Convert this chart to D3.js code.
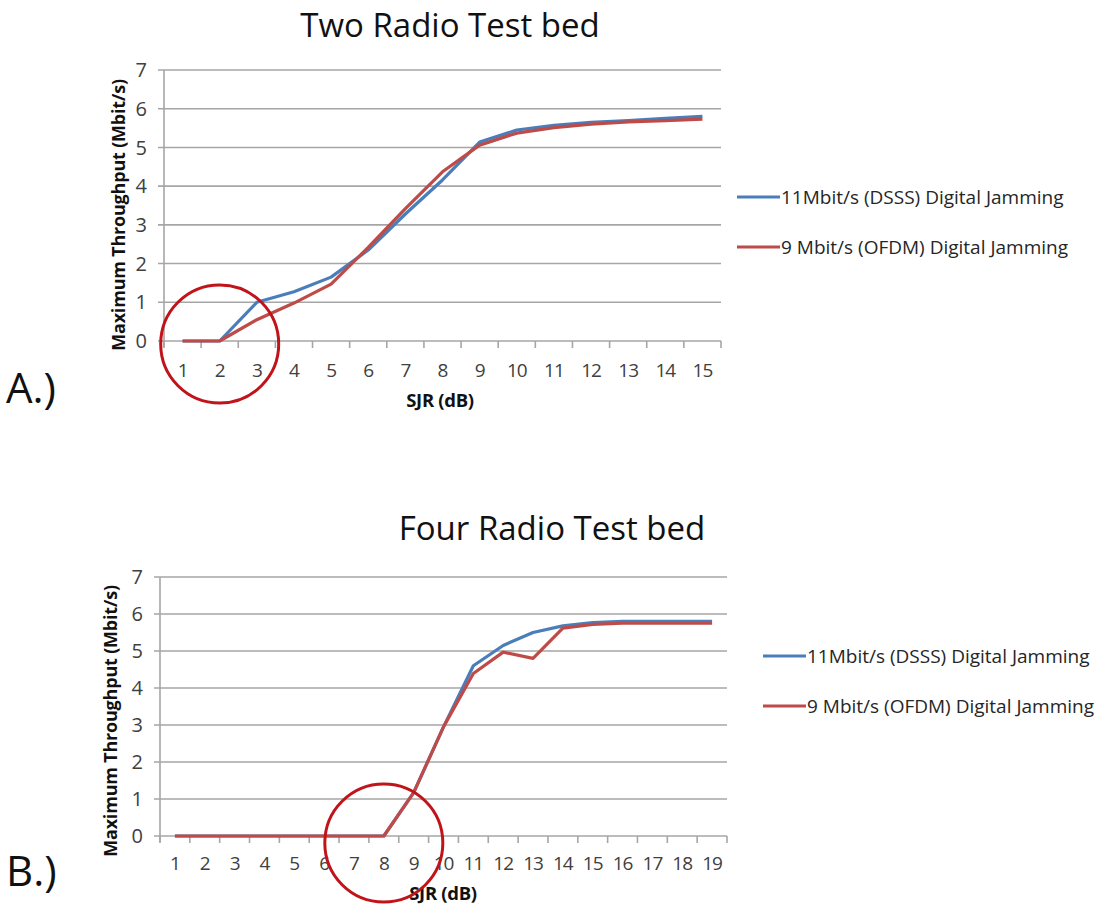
<!DOCTYPE html>
<html>
<head>
<meta charset="utf-8">
<script src="https://cdn.jsdelivr.net/npm/d3@7"></script>
<style>
  html, body { margin: 0; padding: 0; background: #ffffff; }
  svg { display: block; }
  text { font-family: "Open Sans", "Liberation Sans", sans-serif; }
</style>
</head>
<body>
<svg id="chart" width="1103" height="908"></svg>
<script>
// ---------------- Data ----------------
const seriesNames = ["11Mbit/s (DSSS) Digital Jamming", "9 Mbit/s (OFDM) Digital Jamming"];
const seriesColors = ["#4a7ebb", "#be4b48"];
const yTicks = [0, 1, 2, 3, 4, 5, 6, 7];

// A.) Two Radio Test bed
const twoRadioSJR = [1, 2, 3, 4, 5, 6, 7, 8, 9, 10, 11, 12, 13, 14, 15];
const twoRadioDSSS = [0, 0, 1.0, 1.27, 1.65, 2.35, 3.28, 4.16, 5.14, 5.45, 5.57, 5.65, 5.69, 5.75, 5.80];
const twoRadioOFDM = [0, 0, 0.55, 0.98, 1.47, 2.42, 3.42, 4.37, 5.06, 5.37, 5.51, 5.60, 5.66, 5.69, 5.73];

// B.) Four Radio Test bed
const fourRadioSJR = [1, 2, 3, 4, 5, 6, 7, 8, 9, 10, 11, 12, 13, 14, 15, 16, 17, 18, 19];
const fourRadioDSSS = [0, 0, 0, 0, 0, 0, 0, 0, 1.17, 2.95, 4.60, 5.15, 5.50, 5.68, 5.77, 5.80, 5.80, 5.80, 5.80];
const fourRadioOFDM = [0, 0, 0, 0, 0, 0, 0, 0, 1.17, 2.95, 4.39, 4.97, 4.80, 5.62, 5.72, 5.75, 5.75, 5.75, 5.75];

// ---------------- Drawing ----------------
const svg = d3.select("#chart");

function drawPanel(cfg) {
  const g = svg.append("g");
  const x = d3.scaleBand().domain(cfg.categories).range([cfg.left, cfg.right]).padding(0);
  const y = d3.scaleLinear().domain([0, 7]).range([cfg.bottom, cfg.top]);
  const cx = d => x(d) + x.bandwidth() / 2;

  // gridlines (with small outward tick on left)
  g.append("g").selectAll("line").data(yTicks).join("line")
    .attr("x1", cfg.left - 6).attr("x2", cfg.right)
    .attr("y1", d => y(d)).attr("y2", d => y(d))
    .attr("stroke", "#a6a6a6").attr("stroke-width", 1.6);

  // y axis line
  g.append("line")
    .attr("x1", cfg.left).attr("x2", cfg.left)
    .attr("y1", y(7)).attr("y2", y(0) + 6)
    .attr("stroke", "#a6a6a6").attr("stroke-width", 1.6);

  // x tick marks at band boundaries
  const bounds = cfg.categories.map(c => x(c)).concat([cfg.right]);
  g.append("g").selectAll("line").data(bounds).join("line")
    .attr("x1", d => d).attr("x2", d => d)
    .attr("y1", y(0)).attr("y2", y(0) + 7)
    .attr("stroke", "#a6a6a6").attr("stroke-width", 1.6);

  // y tick labels
  g.append("g").selectAll("text").data(yTicks).join("text")
    .attr("x", cfg.left - 17).attr("y", d => y(d)).attr("dy", "0.36em")
    .attr("text-anchor", "end").attr("font-size", 20).attr("fill", "#404040")
    .text(d => d);

  // x tick labels
  g.append("g").selectAll("text").data(cfg.categories).join("text")
    .attr("x", d => cx(d)).attr("y", y(0) + cfg.xLabelOffset)
    .attr("text-anchor", "middle").attr("font-size", 19).attr("fill", "#404040")
    .attr("letter-spacing", -1)
    .text(d => d);

  // axis titles
  g.append("text")
    .attr("x", cfg.xTitleX).attr("y", cfg.xTitleY)
    .attr("text-anchor", "middle").attr("font-size", 18.5).attr("font-weight", "bold").attr("fill", "#111")
    .attr("letter-spacing", -0.3)
    .text("SJR (dB)");
  g.append("text")
    .attr("transform", `translate(${cfg.yTitleX},${cfg.yTitleY}) rotate(-90)`)
    .attr("text-anchor", "middle").attr("font-size", 18).attr("font-weight", "bold").attr("fill", "#111")
    .attr("letter-spacing", -0.2)
    .text("Maximum Throughput (Mbit/s)");

  // chart title
  g.append("text")
    .attr("x", cfg.titleX).attr("y", cfg.titleY)
    .attr("text-anchor", "middle").attr("font-size", 33).attr("fill", "#111")
    .text(cfg.title);

  // panel label
  g.append("text")
    .attr("x", 6).attr("y", cfg.panelY)
    .attr("font-size", 42).attr("fill", "#111")
    .text(cfg.panel);

  // series lines
  const line = d3.line().x((d, i) => cx(cfg.categories[i])).y(d => y(d));
  cfg.series.forEach((vals, si) => {
    g.append("path").datum(vals)
      .attr("d", line)
      .attr("fill", "none")
      .attr("stroke", seriesColors[si])
      .attr("stroke-width", 3.2)
      .attr("stroke-linejoin", "round");
  });

  // legend
  const lg = g.append("g");
  seriesNames.forEach((name, i) => {
    const ly = cfg.legendY[i];
    lg.append("line")
      .attr("x1", cfg.legendX).attr("x2", cfg.legendX + 43)
      .attr("y1", ly).attr("y2", ly)
      .attr("stroke", seriesColors[i]).attr("stroke-width", 3.2);
    lg.append("text")
      .attr("x", cfg.legendX + 44).attr("y", ly).attr("dy", "0.35em")
      .attr("font-size", 19).attr("fill", "#262626")
      .text(name);
  });

  // red annotation circle around the threshold point
  g.append("ellipse")
    .attr("cx", cx(cfg.circleAt)).attr("cy", y(0) + cfg.circleDy)
    .attr("rx", 59).attr("ry", 59)
    .attr("fill", "none").attr("stroke", "#c0141a").attr("stroke-width", 3);
}

drawPanel({
  categories: twoRadioSJR,
  series: [twoRadioDSSS, twoRadioOFDM],
  left: 164, right: 721, top: 70, bottom: 341,
  xLabelOffset: 36,
  xTitleX: 440, xTitleY: 407,
  yTitleX: 125, yTitleY: 215,
  title: "Two Radio Test bed", titleX: 450, titleY: 37,
  panel: "A.)", panelY: 403,
  legendX: 737, legendY: [197, 247],
  circleAt: 2, circleDy: 3
});

drawPanel({
  categories: fourRadioSJR,
  series: [fourRadioDSSS, fourRadioOFDM],
  left: 160, right: 727, top: 577, bottom: 836,
  xLabelOffset: 34,
  xTitleX: 443, xTitleY: 900,
  yTitleX: 117, yTitleY: 721,
  title: "Four Radio Test bed", titleX: 552, titleY: 540,
  panel: "B.)", panelY: 886,
  legendX: 763, legendY: [656, 706],
  circleAt: 8, circleDy: 7
});
</script>
</body>
</html>
